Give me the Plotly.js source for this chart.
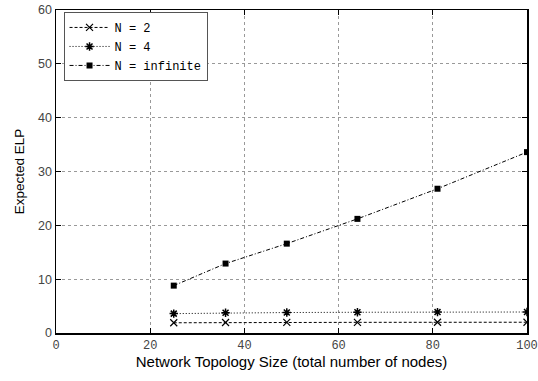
<!DOCTYPE html>
<html><head><meta charset="utf-8">
<script src="https://cdn.plot.ly/plotly-3.0.1.min.js"></script>
<style>html,body{margin:0;padding:0;background:#fff}#chart{width:538px;height:381px}</style>
</head><body><div id="chart"></div>
<script>
const sizes = [25, 36, 49, 64, 81, 100];
const n2 = [1.9, 1.95, 1.97, 1.98, 1.99, 2.0];
const n4 = [3.6, 3.75, 3.8, 3.85, 3.88, 3.9];
const nInf = [8.8, 12.9, 16.6, 21.2, 26.8, 33.6];
const seriesNames = ['N = 2', 'N = 4', 'N = infinite'];

const traces = [
  {x: sizes, y: n2, name: seriesNames[0], mode: 'lines+markers',
   line: {color: '#000', width: 1, dash: '3px,2px'},
   marker: {symbol: 'x-thin-open', size: 7, color: '#000', line: {width: 1.2, color: '#000'}}},
  {x: sizes, y: n4, name: seriesNames[1], mode: 'lines+markers',
   line: {color: '#000', width: 1, dash: '1px,2px'},
   marker: {symbol: 'asterisk-open', size: 7, color: '#000', line: {width: 1.5, color: '#000'}}},
  {x: sizes, y: nInf, name: seriesNames[2], mode: 'lines+markers',
   line: {color: '#000', width: 1, dash: '4px,2px,1px,2px'},
   marker: {symbol: 'square', size: 6, color: '#000'}}
];

const axisCommon = {
  showline: true, linecolor: '#000', linewidth: 1.5, mirror: 'ticks',
  ticks: 'inside', ticklen: 5, tickcolor: '#000',
  showgrid: true, gridcolor: '#999', griddash: 'dot', gridwidth: 1,
  zeroline: false
};

const layout = {
  width: 538, height: 381,
  margin: {l: 56, r: 11, t: 10, b: 48},
  paper_bgcolor: '#fff', plot_bgcolor: '#fff',
  showlegend: true,
  legend: {x: 0.016, y: 0.994, xanchor: 'left', yanchor: 'top',
    bgcolor: '#fff', bordercolor: '#555', borderwidth: 1,
    font: {family: 'Liberation Mono, Courier New, monospace', size: 12, color: '#000'},
    tracegroupgap: 0, itemwidth: 40},
  xaxis: Object.assign({}, axisCommon, {
    range: [0, 100], dtick: 20,
    tickfont: {family: 'Liberation Mono, monospace', size: 12, color: '#444'},
    title: {text: 'Network Topology Size (total number of nodes)', standoff: 4,
      font: {family: 'Liberation Sans, Arial, sans-serif', size: 15, color: '#000'}}
  }),
  yaxis: Object.assign({}, axisCommon, {
    range: [0, 60], dtick: 10,
    tickfont: {family: 'Liberation Sans, Arial, sans-serif', size: 12.5, color: '#444'},
    title: {text: 'Expected ELP', standoff: 10,
      font: {family: 'Liberation Sans, Arial, sans-serif', size: 13.5, color: '#000'}}
  })
};

Plotly.newPlot('chart', traces, layout, {displayModeBar: false, staticPlot: true});
</script></body></html>
